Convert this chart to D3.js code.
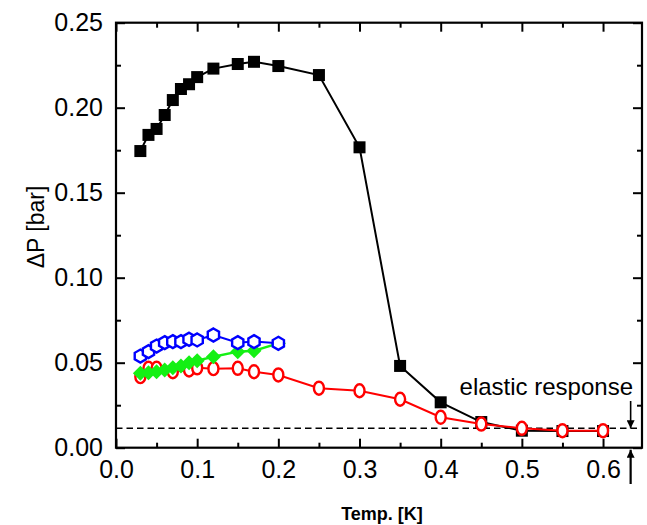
<!DOCTYPE html>
<html>
<head>
<meta charset="utf-8">
<script src="https://cdn.jsdelivr.net/npm/d3@7"></script>
<style>
  html, body { margin: 0; padding: 0; background: #fff; }
  svg { display: block; }
  text { font-family: "Liberation Sans", Arial, sans-serif; fill: #000; }
</style>
</head>
<body>
<svg id="chart" width="647" height="525"></svg>
<script>
// Pressure difference vs temperature, four data sets
const tempSquares = [0.03, 0.04, 0.05, 0.06, 0.07, 0.08, 0.09, 0.10, 0.12, 0.15, 0.17, 0.20, 0.25, 0.30, 0.35, 0.40, 0.45, 0.50, 0.55, 0.60];
const dpSquares   = [0.1745, 0.184, 0.1875, 0.1957, 0.2045, 0.211, 0.2138, 0.218, 0.223, 0.2257, 0.227, 0.2245, 0.2192, 0.1767, 0.0481, 0.0267, 0.0151, 0.0100, 0.0098, 0.0098];

const tempCircles = [0.03, 0.04, 0.05, 0.07, 0.09, 0.10, 0.12, 0.15, 0.17, 0.20, 0.25, 0.30, 0.35, 0.40, 0.45, 0.50, 0.55, 0.60];
const dpCircles   = [0.0418, 0.0467, 0.0467, 0.0447, 0.0457, 0.047, 0.0465, 0.0467, 0.0447, 0.0428, 0.035, 0.0335, 0.0285, 0.0179, 0.0139, 0.0114, 0.0100, 0.0100];

const tempDiamonds = [0.03, 0.04, 0.05, 0.06, 0.07, 0.08, 0.09, 0.10, 0.12, 0.15, 0.17, 0.20];
const dpDiamonds   = [0.0438, 0.0441, 0.0447, 0.0457, 0.047, 0.048, 0.050, 0.0512, 0.0535, 0.0565, 0.057, 0.0614];

const tempHexagons = [0.03, 0.04, 0.05, 0.06, 0.07, 0.08, 0.09, 0.10, 0.12, 0.15, 0.17, 0.20];
const dpHexagons   = [0.0539, 0.0565, 0.0598, 0.0618, 0.0624, 0.0624, 0.0638, 0.0634, 0.0663, 0.0618, 0.0624, 0.0614];

const elasticLevel = 0.0114;
const transitionTemp = 0.634;

const xTicks = [0, 0.1, 0.2, 0.3, 0.4, 0.5, 0.6];
const xMinorTicks = [0.05, 0.15, 0.25, 0.35, 0.45, 0.55];
const yTicks = [0, 0.05, 0.10, 0.15, 0.20, 0.25];
const yMinorTicks = [0.025, 0.075, 0.125, 0.175, 0.225];

const xLabel = "Temp. [K]";
const yLabel = "ΔP [bar]";
const annotation = "elastic response";

const svg = d3.select("#chart");
const plotLeft = 116, plotRight = 642, plotTop = 22.7, plotBottom = 447.7;

const x = d3.scaleLinear().domain([0, 0.648]).range([plotLeft, plotRight]);
const y = d3.scaleLinear().domain([0, 0.25]).range([plotBottom, plotTop]);

const major = 9, minor = 5, fontSize = 25;

function styleAxis(g) {
  g.selectAll(".domain").remove();
  g.selectAll(".tick line").attr("stroke", "#000").attr("stroke-width", 2);
  g.selectAll(".tick text").style("font-size", fontSize + "px").attr("fill", "#000");
}

// bottom axis
svg.append("g").attr("transform", `translate(0,${plotBottom})`)
  .call(d3.axisBottom(x).tickValues(xTicks).tickSize(-major).tickPadding(13).tickFormat(d3.format(".1f")))
  .call(styleAxis);
svg.append("g").attr("transform", `translate(0,${plotBottom})`)
  .call(d3.axisBottom(x).tickValues(xMinorTicks).tickSize(-minor).tickFormat(""))
  .call(styleAxis);
// top axis
svg.append("g").attr("transform", `translate(0,${plotTop})`)
  .call(d3.axisTop(x).tickValues(xTicks).tickSize(-major).tickFormat(""))
  .call(styleAxis);
svg.append("g").attr("transform", `translate(0,${plotTop})`)
  .call(d3.axisTop(x).tickValues(xMinorTicks).tickSize(-minor).tickFormat(""))
  .call(styleAxis);
// left axis
svg.append("g").attr("transform", `translate(${plotLeft},0)`)
  .call(d3.axisLeft(y).tickValues(yTicks).tickSize(-major).tickPadding(13).tickFormat(d3.format(".2f")))
  .call(styleAxis);
svg.append("g").attr("transform", `translate(${plotLeft},0)`)
  .call(d3.axisLeft(y).tickValues(yMinorTicks).tickSize(-minor).tickFormat(""))
  .call(styleAxis);
// right axis
svg.append("g").attr("transform", `translate(${plotRight},0)`)
  .call(d3.axisRight(y).tickValues(yTicks).tickSize(-major).tickFormat(""))
  .call(styleAxis);
svg.append("g").attr("transform", `translate(${plotRight},0)`)
  .call(d3.axisRight(y).tickValues(yMinorTicks).tickSize(-minor).tickFormat(""))
  .call(styleAxis);

// frame
svg.append("rect")
  .attr("x", plotLeft).attr("y", plotTop)
  .attr("width", plotRight - plotLeft).attr("height", plotBottom - plotTop)
  .attr("fill", "none").attr("stroke", "#000").attr("stroke-width", 2.2);

// axis titles
svg.append("text")
  .attr("x", 382).attr("y", 520)
  .attr("text-anchor", "middle")
  .style("font-size", "18px").style("font-weight", "bold")
  .text(xLabel);
svg.append("text")
  .attr("transform", `translate(44,227) rotate(-90)`)
  .attr("text-anchor", "middle")
  .style("font-size", "23px")
  .text(yLabel);

// elastic response level
svg.append("line")
  .attr("x1", plotLeft).attr("x2", plotRight)
  .attr("y1", y(elasticLevel)).attr("y2", y(elasticLevel))
  .attr("stroke", "#000").attr("stroke-width", 1.6)
  .attr("stroke-dasharray", "6.5,4");

svg.append("text")
  .attr("x", 633).attr("y", 395)
  .attr("text-anchor", "end")
  .style("font-size", "24px")
  .text(annotation);

// arrows
const defs = svg.append("defs");
defs.append("marker")
  .attr("id", "head").attr("viewBox", "0 0 10 10")
  .attr("refX", 10).attr("refY", 5)
  .attr("markerWidth", 10).attr("markerHeight", 8)
  .attr("markerUnits", "userSpaceOnUse")
  .attr("orient", "auto")
  .append("path").attr("d", "M0,0 L10,5 L0,10 Z").attr("fill", "#000");

const ax = x(transitionTemp);
svg.append("line")
  .attr("x1", ax).attr("x2", ax)
  .attr("y1", 401).attr("y2", y(elasticLevel))
  .attr("stroke", "#000").attr("stroke-width", 1.6)
  .attr("marker-end", "url(#head)");
svg.append("line")
  .attr("x1", ax).attr("x2", ax)
  .attr("y1", 484).attr("y2", plotBottom + 2)
  .attr("stroke", "#000").attr("stroke-width", 2.2)
  .attr("marker-end", "url(#head)");

const line = d3.line().x(d => x(d[0])).y(d => y(d[1]));

function series(temps, vals) { return temps.map((t, i) => [t, vals[i]]); }

// black squares
const sq = series(tempSquares, dpSquares);
svg.append("path").datum(sq).attr("d", line)
  .attr("fill", "none").attr("stroke", "#000").attr("stroke-width", 2);
svg.append("g").selectAll("rect").data(sq).join("rect")
  .attr("x", d => x(d[0]) - 6).attr("y", d => y(d[1]) - 6)
  .attr("width", 12).attr("height", 12).attr("fill", "#000");

// red open circles
const rc = series(tempCircles, dpCircles);
svg.append("path").datum(rc).attr("d", line)
  .attr("fill", "none").attr("stroke", "#ff0000").attr("stroke-width", 2);
svg.append("g").selectAll("ellipse").data(rc).join("ellipse")
  .attr("cx", d => x(d[0])).attr("cy", d => y(d[1]))
  .attr("rx", 5).attr("ry", 6.5)
  .attr("fill", "#fff").attr("stroke", "#ff0000").attr("stroke-width", 2.4);

// green diamonds
const gd = series(tempDiamonds, dpDiamonds);
svg.append("path").datum(gd).attr("d", line)
  .attr("fill", "none").attr("stroke", "#14f014").attr("stroke-width", 2.5);
svg.append("g").selectAll("path").data(gd).join("path")
  .attr("transform", d => `translate(${x(d[0])},${y(d[1])})`)
  .attr("d", "M0,-7.5 L7.5,0 L0,7.5 L-7.5,0 Z")
  .attr("fill", "#14f014");

// blue open hexagons
const bh = series(tempHexagons, dpHexagons);
svg.append("path").datum(bh).attr("d", line)
  .attr("fill", "none").attr("stroke", "#0000ff").attr("stroke-width", 2);
const hex = d3.range(6).map(k => {
  const a = Math.PI / 3 * k - Math.PI / 2;
  return [6.5 * Math.cos(a), 6.5 * Math.sin(a)];
});
svg.append("g").selectAll("path").data(bh).join("path")
  .attr("transform", d => `translate(${x(d[0])},${y(d[1])})`)
  .attr("d", "M" + hex.map(p => p.join(",")).join("L") + "Z")
  .attr("fill", "#fff").attr("stroke", "#0000ff").attr("stroke-width", 2.4);
</script>
</body>
</html>
